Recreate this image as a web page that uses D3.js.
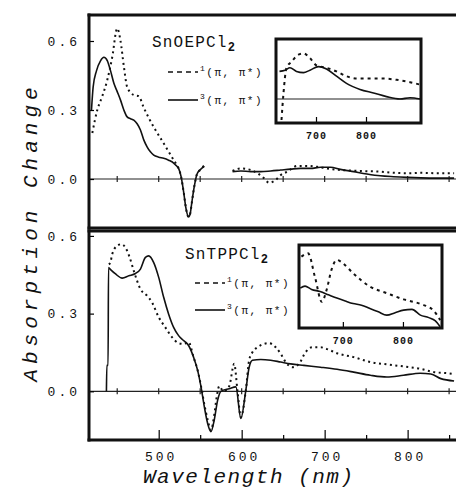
<!DOCTYPE html>
<html>
<head>
<meta charset="utf-8">
<script src="https://cdn.jsdelivr.net/npm/d3@7"></script>
<style>
  html, body { margin: 0; background: #fff; overflow: hidden; }
  svg { display: block; }
  text { font-family: "Liberation Mono", "DejaVu Sans Mono", monospace; fill: #111; }
</style>
</head>
<body>
<svg id="chart" width="456" height="494"></svg>
<script>
// SnOEPCl2 spectra: [wavelength nm, absorption change]
const oepTripletA = [[419,0.3],[421,0.4],[425,0.47],[430,0.515],[434,0.529],[438,0.515],[442,0.47],[446,0.416],[450,0.38],[454,0.343],[458,0.3],[462,0.27],[466,0.262],[470,0.256],[474,0.24],[478,0.213],[482,0.17],[486,0.14],[490,0.118],[494,0.104],[500,0.095],[506,0.09],[512,0.082],[516,0.075],[520,0.062],[524,0.046],[527,0.01],[530,-0.055],[533,-0.13],[536,-0.165],[538,-0.15],[540,-0.1],[543,-0.03],[546,0.02],[550,0.04],[555,0.055]];
const oepTripletB = [[589,0.032],[599,0.035],[611,0.032],[623,0.032],[635,0.035],[647,0.039],[659,0.043],[671,0.046],[683,0.046],[695,0.051],[707,0.051],[719,0.042],[735,0.032],[751,0.022],[767,0.014],[783,0.01],[800,0.007],[816,0.005],[836,0.004],[856,0.004]];
const oepSingletA = [[420,0.2],[426,0.3],[432,0.36],[438,0.43],[444,0.53],[450,0.655],[454,0.6],[458,0.49],[462,0.4],[470,0.365],[476,0.36],[482,0.31],[494,0.226],[506,0.155],[518,0.083],[522,0.06],[524,0.046],[527,0.01],[530,-0.055],[533,-0.13],[536,-0.165],[538,-0.15],[540,-0.1],[543,-0.03],[546,0.02],[550,0.04],[557,0.065]];
const oepSingletB = [[589,0.035],[599,0.046],[611,0.039],[619,0.025],[627,0.003],[633,-0.016],[641,-0.004],[647,0.017],[655,0.032],[667,0.057],[679,0.057],[691,0.053],[703,0.046],[719,0.039],[735,0.036],[751,0.034],[767,0.032],[783,0.027],[800,0.025],[816,0.027],[836,0.025],[856,0.025]];

// SnTPPCl2 spectra
const tppTriplet = [[437,0],[437.5,0.1],[439,0.1],[439.5,0.478],[442,0.47],[448,0.453],[456,0.437],[464,0.446],[472,0.455],[478,0.472],[484,0.517],[488,0.523],[494,0.497],[500,0.44],[506,0.363],[512,0.298],[518,0.247],[524,0.215],[530,0.196],[536,0.177],[542,0.132],[547,0.08],[551,0.017],[555,-0.06],[559,-0.124],[563,-0.156],[567,-0.11],[571,-0.035],[575,0],[585,0.01],[593,0.017],[599,-0.105],[605,0.004],[609,0.093],[613,0.12],[623,0.123],[635,0.12],[647,0.113],[659,0.106],[675,0.1],[695,0.093],[715,0.085],[735,0.074],[755,0.062],[775,0.055],[795,0.062],[815,0.07],[828,0.067],[840,0.049],[856,0.04]];
const tppSinglet = [[440,0.49],[442,0.5],[444,0.53],[450,0.562],[455,0.568],[460,0.555],[465,0.517],[470,0.465],[478,0.395],[486,0.369],[492,0.343],[500,0.286],[508,0.247],[516,0.209],[524,0.186],[530,0.183],[536,0.19],[542,0.132],[547,0.08],[551,0.02],[555,-0.05],[559,-0.11],[563,-0.15],[567,-0.09],[570,-0.02],[573,0.02],[578,0.0],[585,0.02],[591,0.106],[595,0.0],[599,-0.1],[605,0.004],[609,0.12],[613,0.151],[619,0.17],[627,0.183],[633,0.186],[641,0.17],[647,0.145],[653,0.113],[661,0.093],[669,0.106],[677,0.151],[685,0.17],[695,0.17],[703,0.163],[715,0.147],[735,0.132],[755,0.113],[775,0.104],[795,0.096],[815,0.087],[832,0.074],[848,0.07],[856,0.067]];

// inset spectra (expanded red region)
const oepInsetTriplet = [[627,0.023],[638,0.024],[648,0.026],[661,0.023],[675,0.022],[688,0.024],[705,0.027],[721,0.025],[741,0.019],[761,0.013],[788,0.008],[815,0.005],[841,0.002],[868,0.0],[888,0.001],[908,0.0]];
const oepInsetSinglet = [[631,-0.0175],[635,0.005],[641,0.026],[651,0.031],[665,0.037],[675,0.038],[688,0.034],[701,0.028],[721,0.026],[741,0.023],[761,0.019],[781,0.017],[808,0.017],[835,0.017],[861,0.016],[888,0.014],[908,0.012]];
const tppInsetTriplet = [[629,0.096],[637,0.101],[648,0.093],[662,0.088],[676,0.08],[690,0.072],[704,0.065],[717,0.059],[731,0.055],[745,0.047],[759,0.039],[773,0.031],[787,0.037],[801,0.043],[815,0.045],[829,0.031],[843,0.025],[854,0.017],[862,0.003]];
const tppInsetSinglet = [[631,0.172],[642,0.18],[654,0.12],[665,0.063],[673,0.092],[681,0.14],[690,0.164],[700,0.156],[717,0.132],[745,0.1],[773,0.084],[801,0.069],[829,0.058],[851,0.042],[862,0.019]];

const yTicks = [0, 0.3, 0.6];
const xTickLabels = [500, 600, 700, 800];
const minorTicks = [450, 500, 550, 600, 650, 700, 750, 800, 850];
const insetTicks = [700, 800];

const svg = d3.select("#chart");
const x = d3.scaleLinear().domain([416, 880]).range([89, 474]);

const panels = [
  { name: "SnOEPCl", top: 15, bottom: 228, y: d3.scaleLinear().domain([-0.213, 0.713]).range([228, 15]),
    solid: [oepTripletA, oepTripletB], dashed: [oepSingletA, oepSingletB],
    title: [152, 47], leg: [168, 72, 100], xLabels: false,
    inset: { x0: 276, x1: 421, y0: 39, y1: 123, xd: [620, 910], yd: [-0.02, 0.05], zero: true,
             solid: oepInsetTriplet, dashed: oepInsetSinglet } },
  { name: "SnTPPCl", top: 231, bottom: 440, y: d3.scaleLinear().domain([-0.188, 0.619]).range([440, 231]),
    solid: [tppTriplet], dashed: [tppSinglet],
    title: [185, 259], leg: [195, 283, 310], xLabels: true,
    inset: { x0: 299, x1: 442, y0: 245, y1: 328, xd: [627, 865], yd: [0, 0.2], zero: false,
             solid: tppInsetTriplet, dashed: tppInsetSinglet } }
];

panels.forEach((p, i) => {
  const g = svg.append("g");
  const y = p.y;
  const line = d3.line().x(d => x(d[0])).y(d => y(d[1])).curve(d3.curveMonotoneX);

  // zero line with cross ticks
  g.append("line").attr("x1", 89).attr("x2", 456).attr("y1", y(0)).attr("y2", y(0))
    .attr("stroke", "#222").attr("stroke-width", 1.2);
  g.selectAll(".zt").data(minorTicks).enter().append("line")
    .attr("x1", d => x(d)).attr("x2", d => x(d))
    .attr("y1", y(0) - 3).attr("y2", y(0) + 3)
    .attr("stroke", "#222").attr("stroke-width", 1.2);

  // curves
  p.solid.forEach(s => g.append("path").attr("d", line(s)).attr("fill", "none")
    .attr("stroke", "#111").attr("stroke-width", 1.6));
  p.dashed.forEach(s => g.append("path").attr("d", line(s)).attr("fill", "none")
    .attr("stroke", "#111").attr("stroke-width", 2).attr("stroke-dasharray", "2,3.5"));

  // left axis
  const ax = g.append("g").attr("transform", "translate(89,0)")
    .call(d3.axisLeft(y).tickValues(yTicks).tickSize(-5).tickPadding(9).tickFormat(d3.format(".1f")));
  ax.select(".domain").remove();
  ax.selectAll("line").attr("stroke-width", 1.2);
  ax.selectAll("text").attr("font-size", 13).attr("letter-spacing", 3).attr("fill", "#222");

  // bottom ticks (inward)
  if (p.xLabels) {
    const bx = g.append("g").attr("transform", `translate(0,${p.bottom})`)
      .call(d3.axisBottom(x).tickValues(xTickLabels).tickSize(-10).tickPadding(12).tickFormat(d3.format("d")));
    bx.select(".domain").remove();
    bx.selectAll("line").attr("stroke-width", 1.2);
    bx.selectAll("text").attr("font-size", 13).attr("letter-spacing", 3).attr("fill", "#222").attr("dx", 2);
    const mx = g.append("g").attr("transform", `translate(0,${p.bottom})`)
      .call(d3.axisBottom(x).tickValues([550, 650, 750, 850]).tickSize(-5).tickFormat(""));
    mx.select(".domain").remove();
    mx.selectAll("line").attr("stroke-width", 1.2);
  }

  // frame: top, bottom and left edges only (right edge lies outside the picture)
  const frame = [[89, p.top, 456, p.top], [89, p.bottom, 456, p.bottom], [89, p.top, 89, p.bottom]];
  g.selectAll(".frame").data(frame).enter().append("line")
    .attr("x1", d => d[0]).attr("y1", d => d[1]).attr("x2", d => d[2]).attr("y2", d => d[3])
    .attr("stroke", "#111").attr("stroke-width", 3).attr("stroke-linecap", "square");

  // title
  const t = g.append("text").attr("x", p.title[0]).attr("y", p.title[1])
    .attr("font-size", 16).attr("letter-spacing", 1.2);
  t.append("tspan").text(p.name);
  t.append("tspan").attr("font-size", 12).attr("font-weight", "bold").attr("dy", 4).text("2");

  // legend
  const [lx, ly1, ly2] = p.leg;
  g.append("line").attr("x1", lx).attr("x2", lx + 30).attr("y1", ly1).attr("y2", ly1)
    .attr("stroke", "#111").attr("stroke-width", 1.6).attr("stroke-dasharray", "5,4");
  g.append("line").attr("x1", lx).attr("x2", lx + 30).attr("y1", ly2).attr("y2", ly2)
    .attr("stroke", "#111").attr("stroke-width", 1.6);
  [["1", ly1], ["3", ly2]].forEach(([m, ly]) => {
    const lt = g.append("text").attr("x", lx + 32).attr("y", ly + 4).attr("font-size", 11).attr("letter-spacing", 1.5);
    lt.append("tspan").attr("font-size", 8).attr("dy", -5).text(m);
    lt.append("tspan").attr("dy", 5).text("(π, π*)");
  });

  // inset
  const n = p.inset;
  const ix = d3.scaleLinear().domain(n.xd).range([n.x0, n.x1]);
  const iy = d3.scaleLinear().domain(n.yd).range([n.y1, n.y0]);
  const ig = g.append("g");
  ig.append("rect").attr("x", n.x0).attr("y", n.y0).attr("width", n.x1 - n.x0).attr("height", n.y1 - n.y0)
    .attr("fill", "#fff");
  const clipId = "inset" + i;
  ig.append("clipPath").attr("id", clipId).append("rect")
    .attr("x", n.x0).attr("y", n.y0).attr("width", n.x1 - n.x0).attr("height", n.y1 - n.y0);
  const il = d3.line().x(d => ix(d[0])).y(d => iy(d[1])).curve(d3.curveMonotoneX);
  const cg = ig.append("g").attr("clip-path", `url(#${clipId})`);
  if (n.zero) cg.append("line").attr("x1", n.x0).attr("x2", n.x1).attr("y1", iy(0)).attr("y2", iy(0))
    .attr("stroke", "#222").attr("stroke-width", 1.2);
  cg.append("path").attr("d", il(n.solid)).attr("fill", "none").attr("stroke", "#111").attr("stroke-width", 1.6);
  cg.append("path").attr("d", il(n.dashed)).attr("fill", "none").attr("stroke", "#111")
    .attr("stroke-width", 2).attr("stroke-dasharray", "3,4");
  const iax = ig.append("g").attr("transform", `translate(0,${n.y1})`)
    .call(d3.axisBottom(ix).tickValues(insetTicks).tickSize(-6).tickPadding(9).tickFormat(d3.format("d")));
  iax.select(".domain").remove();
  iax.selectAll("line").attr("stroke-width", 1.2);
  iax.selectAll("text").attr("font-size", 10).attr("font-weight", "bold").attr("letter-spacing", 1).attr("fill", "#222");
  ig.append("rect").attr("x", n.x0).attr("y", n.y0).attr("width", n.x1 - n.x0).attr("height", n.y1 - n.y0)
    .attr("fill", "none").attr("stroke", "#111").attr("stroke-width", 3);
});

// axis titles
svg.append("text").attr("transform", "translate(37,232) rotate(-90)")
  .attr("text-anchor", "middle").attr("font-size", 21).attr("font-style", "italic")
  .attr("letter-spacing", 5).text("Absorption Change");
svg.append("text").attr("x", 143).attr("y", 483)
  .attr("font-size", 21).attr("font-style", "italic")
  .attr("letter-spacing", 1.5).text("Wavelength (nm)");
</script>
</body>
</html>
